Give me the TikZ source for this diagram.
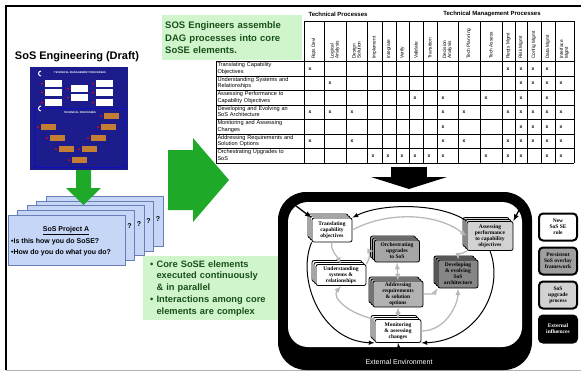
\documentclass[tikz,border=0pt]{standalone}
\usepackage{fontspec}
\setmainfont{Liberation Serif}
\setsansfont{Liberation Sans}
\usetikzlibrary{arrows,shadows,positioning}
\hyphenpenalty=10000
\exhyphenpenalty=10000

\definecolor{slidegreen}{RGB}{30,170,40}
\definecolor{notegreen}{RGB}{208,245,205}
\definecolor{notetext}{RGB}{25,80,25}
\definecolor{cardblue}{RGB}{198,214,246}
\definecolor{cardedge}{RGB}{105,125,185}
\definecolor{navy}{RGB}{28,28,140}
\definecolor{procbox}{RGB}{196,126,52}

\tikzstyle{notebox} = [fill=notegreen, font=\sffamily\bfseries, text=notetext, align=left, anchor=north west]
\tikzstyle{card} = [fill=cardblue, draw=cardedge, line width=0.5pt]
\tikzstyle{cardtext} = [inner sep=0pt, font=\sffamily\bfseries\fontsize{7}{8}\selectfont]
\tikzstyle{rowlab} = [anchor=north west, text width=78pt, align=left, inner sep=0.8pt, font=\sffamily\fontsize{5.6}{6.2}\selectfont]
\tikzstyle{colhead} = [rotate=90, anchor=west, align=left, inner sep=0pt, font=\sffamily\fontsize{4.8}{5}\selectfont]
\tikzstyle{xmark} = [inner sep=0pt, font=\sffamily\bfseries\fontsize{5}{5}\selectfont]
\tikzstyle{legbox} = [draw=black, line width=2pt, rounded corners=4pt, minimum width=38pt, minimum height=27pt, align=center, inner sep=0.5pt, font=\fontsize{5.5}{6}\selectfont\bfseries]
\tikzstyle{loopline} = [->, >=latex, black, line width=1pt]
\tikzstyle{linkline} = [->, >=latex, gray!55, line width=1.3pt]
\tikzset{core/.style={draw=black, line width=0.8pt, rounded corners=2pt, fill=#1,
    copy shadow={shadow xshift=-4pt, shadow yshift=4pt, fill=#1, draw=black},
    copy shadow={shadow xshift=-2pt, shadow yshift=2pt, fill=#1, draw=black},
    align=center, inner sep=0.5pt, font=\fontsize{5.5}{6}\selectfont\bfseries}}

\begin{document}
\begin{tikzpicture}[x=1pt,y=-1pt]
\useasboundingbox (0,0) rectangle (581,373);
% slide border
\draw[black, line width=2pt] (6,370) -- (6,6) -- (581,6);
\draw[gray!60, line width=0.8pt] (6,370) -- (581,370);

\node[font=\sffamily\bfseries\fontsize{11}{13}\selectfont] (title) at (77,57) {SoS Engineering (Draft)};

% thumbnail of the process chart
\fill[navy] (30,67) rectangle (128,170);
\draw[blue!45!navy, line width=0.7pt] (34,108) rectangle (124,167);
\node[text=white, inner sep=0pt, font=\sffamily\bfseries\fontsize{2.6}{3}\selectfont] (mgmtlab) at (80,73) {TECHNICAL MANAGEMENT PROCESSES};
\node[text=white, inner sep=0pt, font=\sffamily\bfseries\fontsize{2.6}{3}\selectfont] (techlab) at (80,113) {TECHNICAL PROCESSES};
\draw[white, line width=1pt] (41,76) arc (90:270:2.5);
\draw[white, line width=1pt] (41,111) arc (90:270:2.5);
\foreach \x/\y in {45/80, 45/89, 45/99, 71/85, 71/94, 96/80, 96/89, 96/99} {
  \fill[white] (\x,\y) rectangle ++(17,7);
  \fill[red] (\x-3,\y+3.5) circle (1);
}
\foreach \x/\y in {104/113, 41/124, 101/124, 50/135, 91/135, 59/146, 82/146, 72/157} {
  \fill[procbox] (\x,\y) rectangle ++(15,6);
  \fill[red] (\x-3,\y+3) circle (1);
}

% stacked project cards
\foreach \k in {4,3,2,1} {
  \filldraw[card] ({8+9.5*\k},{215-4.75*\k}) rectangle ++(117,50);
  \node[cardtext] (qm\k) at ({129.5+9.5*\k-9.5},{229-2.5*\k}) {?};
}
\filldraw[card] (8,215) rectangle ++(117,50);
\node[cardtext] (projtitle) at (66,231) {\underline{SoS Project A}};
\node[cardtext, anchor=west] (projq1) at (11,242) {•Is this how you do SoSE?};
\node[cardtext, anchor=west] (projq2) at (11,253) {•How do you do what you do?};

% green arrows
\fill[slidegreen] (76,170) -- (91,170) -- (91,188) -- (101,188) -- (83.5,205) -- (66,188) -- (76,188) -- cycle;
\fill[slidegreen] (168,150) -- (193,150) -- (193,138) -- (229,180) -- (193,222) -- (193,210) -- (168,210) -- cycle;

% notes
\node[notebox, text width=134pt, minimum height=45pt, inner xsep=3pt, font=\sffamily\bfseries\fontsize{9.5}{12.5}\selectfont] (topnote) at (162,15)
  {SOS Engineers assemble\\DAG processes into core\\SoSE elements.};
\node[notebox, text width=132pt, minimum height=64pt, inner xsep=7pt, font=\sffamily\bfseries\fontsize{9.3}{11.8}\selectfont] (botnote) at (143,256)
  {\textbullet\ Core SoSE elements\\\phantom{\textbullet\ }executed continuously\\\phantom{\textbullet\ }\& in parallel\\\textbullet\ Interactions among core\\\phantom{\textbullet\ }elements are complex};

% mapping table
\node[inner sep=0pt, font=\sffamily\bfseries\fontsize{6}{6}\selectfont] (tphead) at (338,14) {Technical Processes};
\node[inner sep=0pt, font=\sffamily\bfseries\fontsize{6}{6}\selectfont] (tmhead) at (492,14) {Technical Management Processes};
\draw[line width=0.4pt] (304,21) -- (574,21);
\foreach \r in {0,...,7}
  \draw[line width=0.4pt] (216,61.5+14.5*\r) -- (574,61.5+14.5*\r);
\draw[line width=0.4pt] (216,61.5) -- (216,163);
\foreach \xc in {304,324,346,367,382,396,409,423,437,458,480,502,515,527,541,555,574}
  \draw[line width=0.4pt] (\xc,21) -- (\xc,163);
\foreach \xa/\xb/\name [count=\i] in {304/324/{Rqts Devl}, 324/346/{Logical\\Analysis}, 346/367/{Design\\Solution},
    367/382/{Implement}, 382/396/{Integrate}, 396/409/{Verify}, 409/423/{Validate}, 423/437/{Transition},
    437/458/{Decision\\Analysis}, 458/480/{Tech Planning}, 480/502/{Tech Assess}, 502/515/{Reqts Mgmt},
    515/527/{Risk Mgmt}, 527/541/{Config Mgmt}, 541/555/{Data Mgmt}, 555/574/{Interface\\Mgmt}}
  \node[colhead] (col\i) at ({(\xa+\xb)/2},59) {\name};
\foreach \txt [count=\r] in {{Translating Capability Objectives}, {Understanding Systems and Relationships},
    {Assessing Performance to Capability Objectives}, {Developing and Evolving an SoS Architecture},
    {Monitoring and Assessing Changes}, {Addressing Requirements and Solution Options}, {Orchestrating Upgrades to SoS}}
  \node[rowlab] (row\r) at (216.5,47.3+14.5*\r) {\txt};
\foreach \r/\cols in {1/{1,12,13,14,15}, 2/{2,13,14,15,16}, 3/{7,9,11,13,15}, 4/{1,2,3,9,10,12,13,14,15,16},
    5/{9,13,14,15,16}, 6/{1,3,9,10,12,13,14,15,16}, 7/{4,5,6,7,8,9,11,12,13,15,16}}
  \foreach \c in \cols {
    \pgfmathsetmacro{\xl}{{304,324,346,367,382,396,409,423,437,458,480,502,515,527,541,555}[\c-1]}
    \node[xmark] (x\r-\c) at (\xl+6,54.25+14.5*\r) {x};
  }

% black arrow down to the wheel
\fill[black] (391,167) rectangle (427,177);
\fill[black] (371,177) -- (447,177) -- (409,189) -- cycle;

% external environment
\fill[black, rounded corners=28pt] (278,192) rectangle (532,370);
\fill[white, rounded corners=20pt] (288,202) rectangle (522,347);
\node[text=white, inner sep=0pt, font=\sffamily\fontsize{7}{7}\selectfont] (envlab) at (399,362) {External Environment};
\coordinate (envtl) at (296,206);
\coordinate (envtr) at (521,206);
\coordinate (envb) at (399,350);

% core elements
\node[core=white, minimum width=40pt, minimum height=24pt] (trans) at (332,230) {Translating\\capability\\objectives};
\node[core=gray!70, minimum width=45pt, minimum height=22pt] (orch) at (397,251) {Orchestrating\\upgrades\\to SoS};
\node[core=white, minimum width=50pt, minimum height=21pt] (under) at (341,275) {Understanding\\systems \&\\relationships};
\node[core=gray!35, minimum width=46pt, minimum height=29pt] (assess) at (490,236) {Assessing\\performance\\to capability\\objectives};
\node[core=gray!95, minimum width=40pt, minimum height=28pt] (devel) at (458,274) {Developing\\\& evolving\\SoS\\architecture};
\node[core=gray!60, minimum width=50pt, minimum height=26pt] (addr) at (398,294) {Addressing\\requirements\\\& solution\\options};
\node[core=white, minimum width=46pt, minimum height=23pt] (mon) at (398,331) {Monitoring\\\& assessing\\changes};

% gray links between elements
\draw[linkline] (trans.east) .. controls (385,212) and (435,212) .. (assess.west);
\draw[linkline] (trans.south) .. controls +(-2,8) and +(-4,-8) .. (under.north);
\draw[linkline] (under.north east) .. controls +(6,-10) and +(-6,0) .. (orch.west);
\draw[linkline] (assess.south west) .. controls +(-6,4) and +(0,-6) .. (devel.north);
\draw[linkline] (addr.east) .. controls +(10,0) and +(-4,6) .. (devel.south west);
\draw[linkline] (mon.north west) .. controls +(-25,-5) and +(-10,12) .. (under.south);
\draw[linkline] (mon.east) .. controls +(25,0) and +(0,15) .. (devel.south);
\draw[linkline, <->] (orch.south) -- (addr.north);
\draw[linkline, <->] (addr.south) -- (mon.north);

% black loop of the persistent framework
\draw[loopline] (assess.north west) .. controls +(-25,-18) and +(30,-15) .. (trans.north east);
\draw[loopline] (trans.south west) .. controls +(-15,35) and +(-55,-2) .. (mon.south west);
\draw[loopline] (assess.south) .. controls +(15,40) and +(55,-2) .. (mon.south east);
\draw[loopline, line width=1.3pt] (envtl) -- (trans.north west);
\draw[loopline, line width=1.3pt] (envtr) -- (assess.north east);
\draw[loopline, line width=1.3pt] (envb) -- (mon.south);

% legend
\node[legbox, fill=white] (legrole) at (558,227) {New\\SoS SE\\role};
\node[legbox, fill=gray!75, below=5pt of legrole] (legframe) {Persistent\\SoS overlay\\framework};
\node[legbox, fill=gray!35, below=5pt of legframe] (legupgrade) {SoS\\upgrade\\process};
\node[legbox, fill=black, text=white, below=5pt of legupgrade] (leginfl) {External\\influences};
\end{tikzpicture}
\end{document}
